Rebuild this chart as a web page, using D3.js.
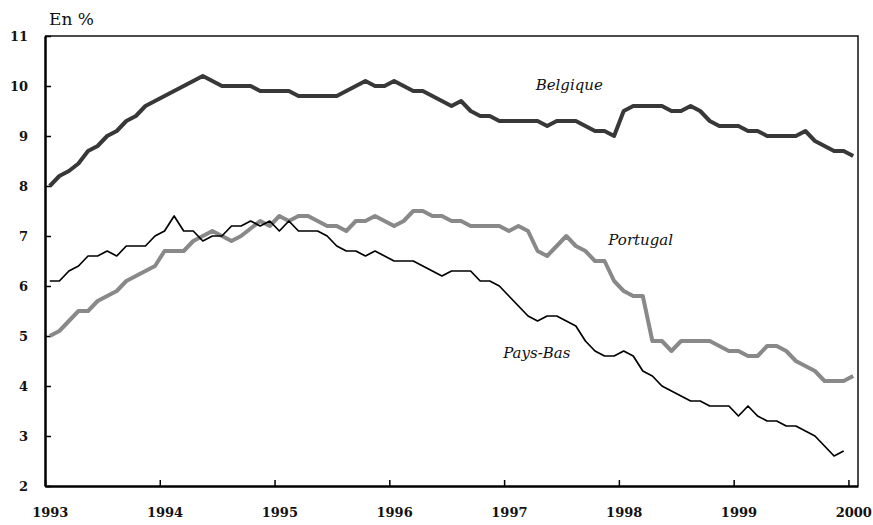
<!DOCTYPE html>
<meta charset="utf-8">
<style>
  body { margin: 0; background: #fff; }
  text { font-family: "DejaVu Serif", serif; }
</style>
<svg width="873" height="525"></svg>
<script src="https://d3js.org/d3.v7.min.js"></script>
<script>

// monthly values, jan 1993 -> jan 2000
var years = ["1993", "1994", "1995", "1996", "1997", "1998", "1999", "2000"];

var belgique = [
  8.0, 8.2, 8.3, 8.45, 8.7, 8.8, 9.0, 9.1, 9.3, 9.4, 9.6, 9.7,
  9.8, 9.9, 10.0, 10.1, 10.2, 10.1, 10.0, 10.0, 10.0, 10.0, 9.9, 9.9,
  9.9, 9.9, 9.8, 9.8, 9.8, 9.8, 9.8, 9.9, 10.0, 10.1, 10.0, 10.0,
  10.1, 10.0, 9.9, 9.9, 9.8, 9.7, 9.6, 9.7, 9.5, 9.4, 9.4, 9.3,
  9.3, 9.3, 9.3, 9.3, 9.2, 9.3, 9.3, 9.3, 9.2, 9.1, 9.1, 9.0,
  9.5, 9.6, 9.6, 9.6, 9.6, 9.5, 9.5, 9.6, 9.5, 9.3, 9.2, 9.2,
  9.2, 9.1, 9.1, 9.0, 9.0, 9.0, 9.0, 9.1, 8.9, 8.8, 8.7, 8.7,
  8.6
];

var portugal = [
  5.0, 5.1, 5.3, 5.5, 5.5, 5.7, 5.8, 5.9, 6.1, 6.2, 6.3, 6.4,
  6.7, 6.7, 6.7, 6.9, 7.0, 7.1, 7.0, 6.9, 7.0, 7.15, 7.3, 7.2,
  7.4, 7.3, 7.4, 7.4, 7.3, 7.2, 7.2, 7.1, 7.3, 7.3, 7.4, 7.3,
  7.2, 7.3, 7.5, 7.5, 7.4, 7.4, 7.3, 7.3, 7.2, 7.2, 7.2, 7.2,
  7.1, 7.2, 7.1, 6.7, 6.6, 6.8, 7.0, 6.8, 6.7, 6.5, 6.5, 6.1,
  5.9, 5.8, 5.8, 4.9, 4.9, 4.7, 4.9, 4.9, 4.9, 4.9, 4.8, 4.7,
  4.7, 4.6, 4.6, 4.8, 4.8, 4.7, 4.5, 4.4, 4.3, 4.1, 4.1, 4.1,
  4.2
];

var paysBas = [
  6.1, 6.1, 6.3, 6.4, 6.6, 6.6, 6.7, 6.6, 6.8, 6.8, 6.8, 7.0,
  7.1, 7.4, 7.1, 7.1, 6.9, 7.0, 7.0, 7.2, 7.2, 7.3, 7.2, 7.3,
  7.1, 7.3, 7.1, 7.1, 7.1, 7.0, 6.8, 6.7, 6.7, 6.6, 6.7, 6.6,
  6.5, 6.5, 6.5, 6.4, 6.3, 6.2, 6.3, 6.3, 6.3, 6.1, 6.1, 6.0,
  5.8, 5.6, 5.4, 5.3, 5.4, 5.4, 5.3, 5.2, 4.9, 4.7, 4.6, 4.6,
  4.7, 4.6, 4.3, 4.2, 4.0, 3.9, 3.8, 3.7, 3.7, 3.6, 3.6, 3.6,
  3.4, 3.6, 3.4, 3.3, 3.3, 3.2, 3.2, 3.1, 3.0, 2.8, 2.6, 2.7
];

var yTicks = [2, 3, 4, 5, 6, 7, 8, 9, 10, 11];

var svg = d3.select("svg"),
    margin = {top: 36, right: 15, bottom: 39, left: 45},
    width = +svg.attr("width") - margin.left - margin.right,
    height = +svg.attr("height") - margin.top - margin.bottom,
    g = svg.append("g").attr("transform", "translate(" + margin.left + "," + margin.top + ")");

var nMonths = belgique.length;

// category axis: one slot per month, points in the middle of the slot
var x = d3.scaleLinear()
    .domain([0, nMonths])
    .range([0, width]);

var y = d3.scaleLinear()
    .domain([2, 11])
    .range([height, 0]);

var line = d3.line()
    .x(function(d, i) { return x(i + 0.5); })
    .y(function(d) { return y(d); });

// frame top / right
g.append("path")
    .attr("d", "M0,0H" + width + "V" + height)
    .attr("fill", "none")
    .attr("stroke", "#111")
    .attr("stroke-width", 1.5);

var yAxis = g.append("g")
    .call(d3.axisLeft(y).tickValues(yTicks).tickSizeInner(-6).tickSizeOuter(0).tickPadding(17));

var xAxis = g.append("g")
    .attr("transform", "translate(0," + height + ")")
    .call(d3.axisBottom(x)
      .tickValues(years.map(function(d, i) { return i * 12; }))
      .tickFormat(function(d) { return years[d / 12]; })
      .tickSizeInner(-6).tickSizeOuter(0).tickPadding(22));

xAxis.selectAll("text").attr("x", x(0.5) - x(0));

[yAxis, xAxis].forEach(function(a) {
  a.select(".domain").attr("stroke", "#000").attr("stroke-width", 2.5);
  a.selectAll(".tick line").attr("stroke", "#000").attr("stroke-width", 1.5);
  a.selectAll("text")
      .attr("fill", "#111")
      .style("font-family", "'DejaVu Serif', serif")
      .style("font-size", "13px")
      .style("font-weight", "bold");
});

g.append("path")
    .datum(portugal)
    .attr("fill", "none")
    .attr("stroke", "#898989")
    .attr("stroke-width", 4)
    .attr("stroke-linejoin", "round")
    .attr("d", line);

g.append("path")
    .datum(belgique)
    .attr("fill", "none")
    .attr("stroke", "#383838")
    .attr("stroke-width", 4)
    .attr("stroke-linejoin", "round")
    .attr("d", line);

g.append("path")
    .datum(paysBas)
    .attr("fill", "none")
    .attr("stroke", "#000")
    .attr("stroke-width", 1.7)
    .attr("stroke-linejoin", "round")
    .attr("d", line);

// series names, placed in data space
var labels = [
  {name: "Belgique", m: 51.3, v: 9.92},
  {name: "Portugal", m: 58.9, v: 6.82},
  {name: "Pays-Bas", m: 47.9, v: 4.56}
];

g.selectAll(".lbl")
  .data(labels)
  .enter().append("text")
    .attr("class", "lbl")
    .attr("x", function(d) { return x(d.m); })
    .attr("y", function(d) { return y(d.v); })
    .style("font-size", "15px")
    .style("font-style", "italic")
    .attr("fill", "#111")
    .text(function(d) { return d.name; });

svg.append("text")
    .attr("x", 49)
    .attr("y", 25)
    .style("font-size", "17px")
    .attr("fill", "#111")
    .text("En %");

</script>
